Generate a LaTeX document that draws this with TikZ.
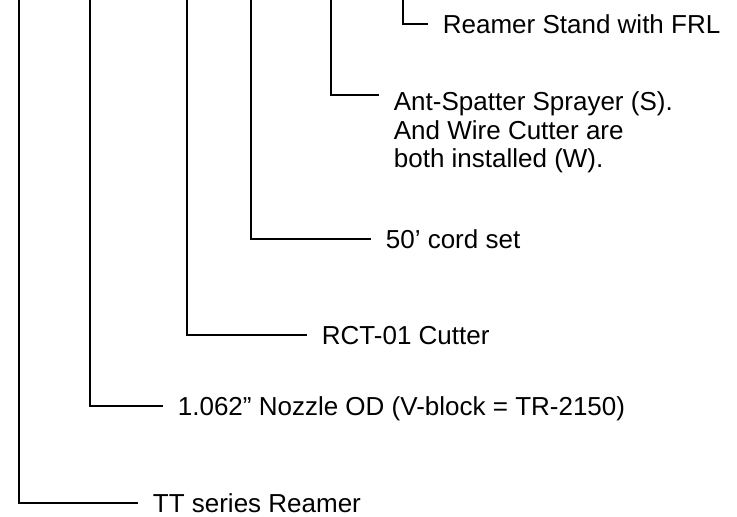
\documentclass[tikz,border=0pt]{standalone}
\usepackage{fontspec}
\setmainfont{Liberation Sans}
\begin{document}
\begin{tikzpicture}[x=1pt,y=-1pt,line width=1.8pt,
  lbl/.style={inner xsep=14pt,inner ysep=0pt,font=\fontsize{26}{28.5}\selectfont},
  oneline/.style={lbl,anchor=west,text height=18.7pt,text depth=0pt}]
\useasboundingbox (0,0) rectangle (737,517);
\coordinate (t1) at (19,0);
\coordinate (t2) at (90,0);
\coordinate (t3) at (187,0);
\coordinate (t4) at (251,0);
\coordinate (t5) at (331,0);
\coordinate (t6) at (403,0);
\node[oneline] (l1) at (138,503) {TT series Reamer};
\node[oneline] (l2) at (163,406) {1.062” Nozzle OD (V-block = TR-2150)};
\node[oneline] (l3) at (307,335) {RCT-01 Cutter};
\node[oneline] (l4) at (371,239) {50’ cord set};
\node[lbl,anchor=north west,align=left] (l5) at (379,91) {Ant-Spatter Sprayer (S).\\And Wire Cutter are\\both installed (W).};
\node[oneline] (l6) at (428,24) {Reamer Stand with FRL};
\draw (t1) |- (l1.west);
\draw (t2) |- (l2.west);
\draw (t3) |- (l3.west);
\draw (t4) |- (l4.west);
\draw (t5) |- ([yshift=-4pt]l5.north west);
\draw (t6) |- (l6.west);
\end{tikzpicture}
\end{document}
